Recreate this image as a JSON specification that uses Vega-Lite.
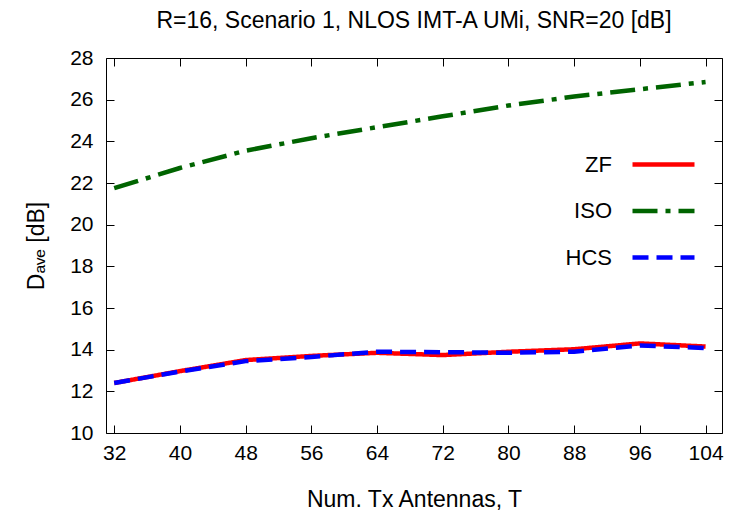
{
  "$schema": "https://vega.github.io/schema/vega-lite/v6.json",
  "autosize": {"type": "none"},
  "width": 616,
  "height": 375,
  "padding": {"left": 106, "top": 58, "right": 9, "bottom": 82},
  "background": "white",
  "config": {
    "font": "Liberation Sans",
    "view": {"stroke": "black", "strokeWidth": 1},
    "axis": {"grid": false, "domain": false, "tickColor": "black", "labelColor": "black", "titleColor": "black", "labelFont": "Liberation Sans", "titleFont": "Liberation Sans", "labelFontSize": 21, "titleFontSize": 23, "titleFontWeight": "normal", "tickSize": -8, "tickWidth": 1}
  },
  "title": {"text": "R=16, Scenario 1, NLOS IMT-A UMi, SNR=20 [dB]", "font": "Liberation Sans", "fontSize": 23, "fontWeight": "normal", "color": "black", "offset": 14, "anchor": "middle"},
  "data": {"values": [
    {"T": 32, "D": 12.4, "method": "ZF"},
    {"T": 40, "D": 12.97, "method": "ZF"},
    {"T": 48, "D": 13.5, "method": "ZF"},
    {"T": 56, "D": 13.7, "method": "ZF"},
    {"T": 64, "D": 13.85, "method": "ZF"},
    {"T": 72, "D": 13.74, "method": "ZF"},
    {"T": 80, "D": 13.9, "method": "ZF"},
    {"T": 88, "D": 14.02, "method": "ZF"},
    {"T": 96, "D": 14.3, "method": "ZF"},
    {"T": 104, "D": 14.15, "method": "ZF"},
    {"T": 32, "D": 21.75, "method": "ISO"},
    {"T": 40, "D": 22.72, "method": "ISO"},
    {"T": 48, "D": 23.55, "method": "ISO"},
    {"T": 56, "D": 24.15, "method": "ISO"},
    {"T": 64, "D": 24.68, "method": "ISO"},
    {"T": 72, "D": 25.2, "method": "ISO"},
    {"T": 80, "D": 25.72, "method": "ISO"},
    {"T": 88, "D": 26.15, "method": "ISO"},
    {"T": 96, "D": 26.5, "method": "ISO"},
    {"T": 104, "D": 26.85, "method": "ISO"},
    {"T": 32, "D": 12.4, "method": "HCS"},
    {"T": 40, "D": 12.95, "method": "HCS"},
    {"T": 48, "D": 13.45, "method": "HCS"},
    {"T": 56, "D": 13.65, "method": "HCS"},
    {"T": 64, "D": 13.9, "method": "HCS"},
    {"T": 72, "D": 13.88, "method": "HCS"},
    {"T": 80, "D": 13.85, "method": "HCS"},
    {"T": 88, "D": 13.9, "method": "HCS"},
    {"T": 96, "D": 14.2, "method": "HCS"},
    {"T": 104, "D": 14.08, "method": "HCS"}
  ]},
  "layer": [
    {
      "mark": {"type": "line", "strokeWidth": 4.5, "clip": true},
      "encoding": {
        "x": {"field": "T", "type": "quantitative", "scale": {"domain": [31, 106], "nice": false, "zero": false}, "axis": {"orient": "bottom", "values": [32, 40, 48, 56, 64, 72, 80, 88, 96, 104], "title": "Num. Tx Antennas, T", "labelPadding": 17, "titlePadding": 25}},
        "y": {"field": "D", "type": "quantitative", "scale": {"domain": [10, 28], "nice": false, "zero": false}, "axis": {"orient": "left", "values": [10, 12, 14, 16, 18, 20, 22, 24, 26, 28], "title": "Dₐᵥₑ [dB]", "labelPadding": 21, "titlePadding": 21}},
        "color": {"field": "method", "type": "nominal", "scale": {"domain": ["ZF", "ISO", "HCS"], "range": ["#ff0000", "#006400", "#0000ff"]}, "legend": {"title": null, "orient": "none", "legendX": 524, "legendY": 73, "symbolType": "stroke", "symbolSize": 3844, "symbolStrokeWidth": 4.5, "labelAlign": "right", "labelOffset": -85, "labelFontSize": 22, "labelFont": "Liberation Sans", "labelColor": "black", "rowPadding": 1.5}},
        "strokeDash": {"field": "method", "type": "nominal", "scale": {"domain": ["ZF", "ISO", "HCS"], "range": [[1, 0], [25, 8, 5, 8], [16, 8]]}, "legend": null},
        "order": {"field": "T", "type": "quantitative"}
      }
    },
    {
      "mark": {"type": "point", "opacity": 0},
      "encoding": {
        "x": {"field": "T", "type": "quantitative", "axis": {"orient": "top", "values": [32, 40, 48, 56, 64, 72, 80, 88, 96, 104], "labels": false, "title": null}},
        "y": {"field": "D", "type": "quantitative", "axis": {"orient": "right", "values": [10, 12, 14, 16, 18, 20, 22, 24, 26, 28], "labels": false, "title": null}}
      }
    }
  ],
  "resolve": {"axis": {"x": "independent", "y": "independent"}}
}
